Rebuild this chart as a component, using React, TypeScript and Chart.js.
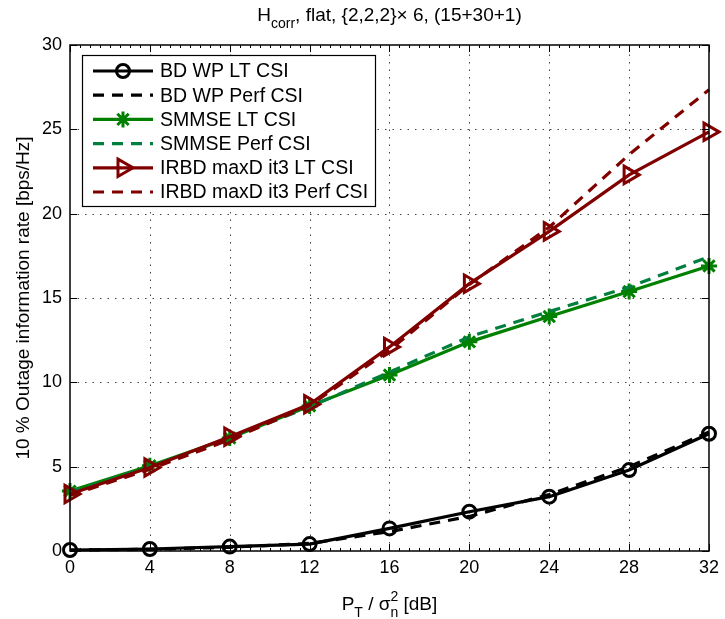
import React, { useEffect, useRef } from 'react';
import { Chart, registerables } from 'chart.js';

Chart.register(...registerables);

const xValues = [0, 4, 8, 12, 16, 20, 24, 28, 32];
const bdLT = [0.06, 0.12, 0.26, 0.41, 1.34, 2.33, 3.22, 4.8, 6.95];
const bdPerf = [0.05, 0.1, 0.22, 0.45, 1.15, 2.05, 3.35, 5.0, 7.05];
const smLT = [3.55, 5.05, 6.7, 8.6, 10.43, 12.4, 13.9, 15.38, 16.9];
const smPerf = [3.5, 5.0, 6.68, 8.55, 10.6, 12.7, 14.2, 15.65, 17.45];
const irLT = [3.38, 4.95, 6.78, 8.7, 12.1, 15.85, 18.95, 22.3, 24.85];
const irPerf = [3.3, 4.85, 6.6, 8.62, 11.9, 15.8, 19.2, 23.5, 27.35];

const xTicks = [0, 4, 8, 12, 16, 20, 24, 28, 32];
const yTicks = [0, 5, 10, 15, 20, 25, 30];

const seriesNames = [
  'BD WP LT CSI',
  'BD WP Perf CSI',
  'SMMSE LT CSI',
  'SMMSE Perf CSI',
  'IRBD maxD it3 LT CSI',
  'IRBD maxD it3 Perf CSI',
];

const FONT = "'Liberation Sans', Arial, Helvetica, sans-serif";
const BLACK = '#000000';
const GREEN = '#008000';
const GREEN2 = '#007f3f';
const RED = '#800000';
const DASH = [11, 8];

type Style = { color: string; dash: number[]; marker: string; radius: number; rot: number };
const styles: Style[] = [
  { color: BLACK, dash: [], marker: 'circle', radius: 6.5, rot: 0 },
  { color: BLACK, dash: DASH, marker: '', radius: 0, rot: 0 },
  { color: GREEN, dash: [], marker: 'star', radius: 8, rot: 0 },
  { color: GREEN2, dash: DASH, marker: '', radius: 0, rot: 0 },
  { color: RED, dash: [], marker: 'triangle', radius: 10, rot: 90 },
  { color: RED, dash: DASH, marker: '', radius: 0, rot: 0 },
];
const seriesValues = [bdLT, bdPerf, smLT, smPerf, irLT, irPerf];

function drawMarker(ctx: CanvasRenderingContext2D, kind: string, x: number, y: number, r: number, color: string) {
  ctx.save();
  ctx.strokeStyle = color;
  ctx.lineWidth = 3;
  ctx.setLineDash([]);
  ctx.beginPath();
  if (kind === 'circle') {
    ctx.arc(x, y, r, 0, Math.PI * 2);
  } else if (kind === 'star') {
    for (let i = 0; i < 4; i++) {
      const a = (i * Math.PI) / 4;
      ctx.moveTo(x + Math.cos(a) * r, y + Math.sin(a) * r);
      ctx.lineTo(x - Math.cos(a) * r, y - Math.sin(a) * r);
    }
  } else if (kind === 'triangle') {
    const h = r * 1.5;
    const half = (r * Math.sqrt(3)) / 2;
    ctx.moveTo(x + r, y);
    ctx.lineTo(x + r - h, y - half);
    ctx.lineTo(x + r - h, y + half);
    ctx.closePath();
  }
  ctx.stroke();
  ctx.restore();
}

const framePlugin = {
  id: 'matlabFrame',
  beforeDatasetsDraw(chart: any) {
    const { ctx, chartArea: a, scales } = chart;
    const xs = scales.x;
    const ys = scales.y;
    ctx.save();
    ctx.strokeStyle = '#444';
    ctx.lineWidth = 1;
    ctx.setLineDash([1.5, 6]);
    xTicks.forEach((v) => {
      if (v === xTicks[0] || v === xTicks[xTicks.length - 1]) return;
      const px = Math.round(xs.getPixelForValue(v)) + 0.5;
      ctx.beginPath();
      ctx.moveTo(px, a.bottom);
      ctx.lineTo(px, a.top);
      ctx.stroke();
    });
    yTicks.forEach((v) => {
      if (v === yTicks[0] || v === yTicks[yTicks.length - 1]) return;
      const py = Math.round(ys.getPixelForValue(v)) + 0.5;
      ctx.beginPath();
      ctx.moveTo(a.left, py);
      ctx.lineTo(a.right, py);
      ctx.stroke();
    });
    ctx.restore();
  },
  afterDatasetsDraw(chart: any) {
    const { ctx, chartArea: a, scales } = chart;
    const xs = scales.x;
    const ys = scales.y;
    ctx.save();
    ctx.setLineDash([]);
    ctx.strokeStyle = '#000';
    ctx.lineWidth = 1;
    xTicks.forEach((v) => {
      const px = Math.round(xs.getPixelForValue(v)) + 0.5;
      ctx.beginPath();
      ctx.moveTo(px, a.bottom);
      ctx.lineTo(px, a.bottom - 7);
      ctx.moveTo(px, a.top);
      ctx.lineTo(px, a.top + 7);
      ctx.stroke();
    });
    for (let v = 0.5; v < 32; v += 0.5) {
      if (v % 4 === 0) continue;
      const px = Math.round(xs.getPixelForValue(v)) + 0.5;
      ctx.beginPath();
      ctx.moveTo(px, a.bottom);
      ctx.lineTo(px, a.bottom - 3);
      ctx.moveTo(px, a.top);
      ctx.lineTo(px, a.top + 3);
      ctx.stroke();
    }
    yTicks.forEach((v) => {
      const py = Math.round(ys.getPixelForValue(v)) + 0.5;
      ctx.beginPath();
      ctx.moveTo(a.left, py);
      ctx.lineTo(a.left + 7, py);
      ctx.moveTo(a.right, py);
      ctx.lineTo(a.right - 7, py);
      ctx.stroke();
    });
    ctx.lineWidth = 1.5;
    ctx.strokeRect(a.left, a.top, a.right - a.left, a.bottom - a.top);

    // legend
    const lx = 82, ly = 55, lw = 293, lh = 151;
    ctx.fillStyle = '#fff';
    ctx.fillRect(lx, ly, lw, lh);
    ctx.lineWidth = 1.2;
    ctx.strokeStyle = '#000';
    ctx.strokeRect(lx + 0.5, ly + 0.5, lw, lh);
    ctx.font = `19.5px ${FONT}`;
    ctx.textBaseline = 'middle';
    ctx.textAlign = 'left';
    seriesNames.forEach((name, i) => {
      const st = styles[i];
      const yy = 71 + i * 24.2;
      ctx.save();
      ctx.strokeStyle = st.color;
      ctx.lineWidth = 3.2;
      ctx.setLineDash(st.dash);
      ctx.beginPath();
      ctx.moveTo(93, yy);
      ctx.lineTo(153, yy);
      ctx.stroke();
      ctx.restore();
      if (st.marker) drawMarker(ctx, st.marker, 123, yy, st.radius, st.color);
      ctx.fillStyle = '#000';
      ctx.fillText(name, 160, yy + 1);
    });

    // title
    const cx = (a.left + a.right) / 2;
    ctx.fillStyle = '#000';
    ctx.textBaseline = 'alphabetic';
    const big = `19px ${FONT}`;
    const small = `14px ${FONT}`;
    const t1 = 'H', t2 = 'corr', t3 = ', flat, {2,2,2}\u00d7 6, (15+30+1)';
    ctx.font = big;
    const w1 = ctx.measureText(t1).width;
    const w3 = ctx.measureText(t3).width;
    ctx.font = small;
    const w2 = ctx.measureText(t2).width;
    let sx = cx - (w1 + w2 + w3) / 2;
    ctx.font = big;
    ctx.fillText(t1, sx, 21);
    sx += w1;
    ctx.font = small;
    ctx.fillText(t2, sx, 28);
    sx += w2;
    ctx.font = big;
    ctx.fillText(t3, sx, 21);

    // x label
    const p1 = 'P', p2 = 'T', p3 = ' / \u03c3', p4 = 'n', p5 = ' [dB]';
    ctx.font = big;
    const q1 = ctx.measureText(p1).width;
    const q3 = ctx.measureText(p3).width;
    const q5 = ctx.measureText(p5).width;
    ctx.font = small;
    const q2 = ctx.measureText(p2).width;
    const q4 = Math.max(ctx.measureText(p4).width, ctx.measureText('2').width);
    let bx = cx - (q1 + q2 + q3 + q4 + q5) / 2;
    const by = 610;
    ctx.font = big;
    ctx.fillText(p1, bx, by);
    bx += q1;
    ctx.font = small;
    ctx.fillText(p2, bx, by + 7);
    bx += q2;
    ctx.font = big;
    ctx.fillText(p3, bx, by);
    bx += q3;
    ctx.font = small;
    ctx.fillText(p4, bx, by + 7);
    ctx.fillText('2', bx, by - 9);
    bx += q4;
    ctx.font = big;
    ctx.fillText(p5, bx, by);

    // y label
    ctx.save();
    ctx.translate(24, (a.top + a.bottom) / 2);
    ctx.rotate(-Math.PI / 2);
    ctx.textAlign = 'center';
    ctx.textBaseline = 'middle';
    ctx.font = big;
    ctx.fillText('10 % Outage information rate [bps/Hz]', 0, 0);
    ctx.restore();

    ctx.restore();
  },
};

export default function App() {
  const ref = useRef<HTMLCanvasElement | null>(null);

  useEffect(() => {
    if (!ref.current) return;
    const datasets = seriesNames.map((name, i) => {
      const st = styles[i];
      return {
        label: name,
        data: xValues.map((x, j) => ({ x, y: seriesValues[i][j] })),
        borderColor: st.color,
        backgroundColor: st.color,
        borderWidth: 3.2,
        borderDash: st.dash,
        tension: 0,
        fill: false,
        clip: false as any,
        pointStyle: st.marker || 'circle',
        pointRadius: st.radius,
        pointHoverRadius: st.radius,
        pointRotation: st.rot,
        pointBorderWidth: 3,
        pointBorderColor: st.color,
        pointBackgroundColor: 'rgba(0,0,0,0)',
        order: 6 - i,
      };
    });

    const chart = new Chart(ref.current, {
      type: 'line',
      data: { datasets },
      plugins: [framePlugin],
      options: {
        animation: false,
        responsive: false,
        devicePixelRatio: 1,
        layout: { padding: { top: 45, right: 13, left: 0, bottom: 0 } },
        plugins: {
          legend: { display: false },
          tooltip: { enabled: false },
          title: { display: false },
        },
        scales: {
          x: {
            type: 'linear',
            min: 0,
            max: 32,
            afterBuildTicks: (s: any) => {
              s.ticks = xTicks.map((v) => ({ value: v }));
            },
            afterFit: (s: any) => {
              s.height = 68;
            },
            ticks: {
              color: '#000',
              font: { family: FONT, size: 18 },
              padding: 6,
              maxRotation: 0,
              autoSkip: false,
            },
            grid: { display: false, drawTicks: false, tickLength: 0 },
            border: { display: false },
          },
          y: {
            type: 'linear',
            min: 0,
            max: 30,
            afterBuildTicks: (s: any) => {
              s.ticks = yTicks.map((v) => ({ value: v }));
            },
            afterFit: (s: any) => {
              s.width = 70;
            },
            ticks: {
              color: '#000',
              font: { family: FONT, size: 18 },
              padding: 8,
              autoSkip: false,
            },
            grid: { display: false, drawTicks: false, tickLength: 0 },
            border: { display: false },
          },
        },
      },
    });
    return () => chart.destroy();
  }, []);

  return (
    <div style={{ position: 'absolute', left: 0, top: 0, width: 725, height: 619, background: '#fff' }}>
      <canvas ref={ref} width={725} height={619} style={{ display: 'block' }} />
    </div>
  );
}
